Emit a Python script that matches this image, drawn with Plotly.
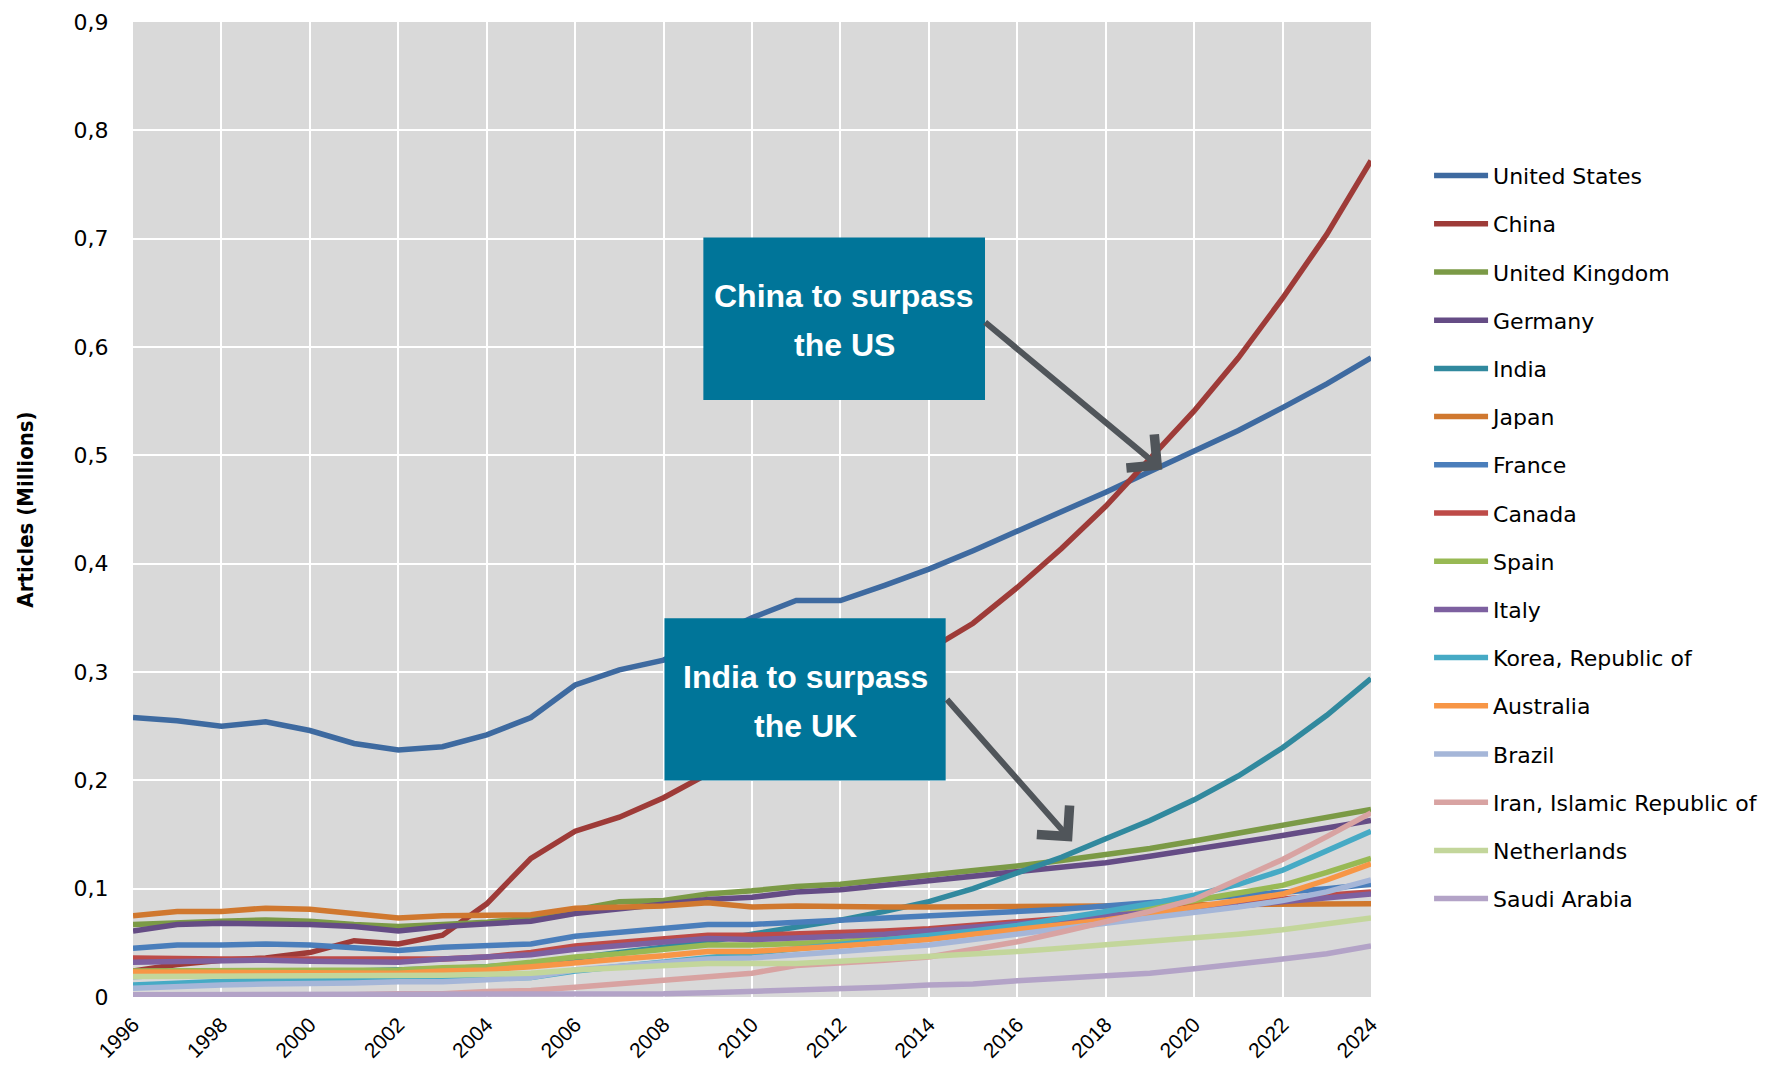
import plotly.graph_objects as go

years = list(range(1996, 2025))

united_states = [0.258, 0.255, 0.250, 0.254, 0.246, 0.234, 0.228, 0.231, 0.242, 0.258, 0.288, 0.302, 0.311, 0.330,
                 0.350, 0.366, 0.366, 0.380, 0.395, 0.412, 0.430, 0.447, 0.466, 0.485, 0.504, 0.523, 0.544, 0.566, 0.590]
china = [0.024, 0.030, 0.034, 0.036, 0.041, 0.052, 0.049, 0.057, 0.086, 0.128, 0.153, 0.166, 0.184, 0.206,
         0.228, 0.250, 0.272, 0.296, 0.320, 0.345, 0.378, 0.414, 0.453, 0.497, 0.541, 0.590, 0.645, 0.704, 0.772]
united_kingdom = [0.067, 0.069, 0.070, 0.071, 0.070, 0.067, 0.065, 0.067, 0.069, 0.073, 0.081, 0.088, 0.089, 0.095,
                  0.098, 0.102, 0.104, 0.108, 0.112, 0.117, 0.121, 0.126, 0.131, 0.137, 0.144, 0.151, 0.158, 0.165, 0.173]
germany = [0.061, 0.067, 0.068, 0.068, 0.067, 0.065, 0.061, 0.065, 0.067, 0.070, 0.077, 0.081, 0.085, 0.090,
           0.092, 0.097, 0.099, 0.103, 0.107, 0.111, 0.115, 0.119, 0.124, 0.130, 0.136, 0.142, 0.149, 0.156, 0.163]
india = [0.019, 0.020, 0.021, 0.022, 0.022, 0.023, 0.024, 0.026, 0.028, 0.031, 0.036, 0.041, 0.046, 0.051,
         0.058, 0.064, 0.071, 0.079, 0.088, 0.100, 0.114, 0.129, 0.146, 0.163, 0.182, 0.204, 0.230, 0.260, 0.294]
japan = [0.075, 0.079, 0.079, 0.082, 0.081, 0.077, 0.073, 0.075, 0.076, 0.076, 0.082, 0.083, 0.084, 0.087,
         0.083, 0.084, 0.083, 0.083, 0.083, 0.083, 0.083, 0.084, 0.084, 0.085, 0.085, 0.085, 0.086, 0.086, 0.086]
france = [0.045, 0.048, 0.048, 0.049, 0.048, 0.046, 0.043, 0.046, 0.047, 0.049, 0.056, 0.060, 0.063, 0.067,
          0.067, 0.069, 0.070, 0.072, 0.075, 0.077, 0.079, 0.081, 0.084, 0.087, 0.090, 0.093, 0.097, 0.100, 0.104]
canada = [0.036, 0.035, 0.035, 0.035, 0.035, 0.035, 0.034, 0.035, 0.037, 0.041, 0.047, 0.050, 0.053, 0.057,
          0.057, 0.058, 0.059, 0.061, 0.063, 0.066, 0.069, 0.072, 0.076, 0.079, 0.083, 0.087, 0.091, 0.094, 0.097]
spain = [0.024, 0.024, 0.025, 0.025, 0.025, 0.025, 0.025, 0.027, 0.028, 0.032, 0.037, 0.040, 0.044, 0.048,
         0.048, 0.049, 0.051, 0.054, 0.058, 0.061, 0.066, 0.071, 0.076, 0.082, 0.089, 0.096, 0.103, 0.115, 0.128]
italy = [0.032, 0.033, 0.033, 0.034, 0.033, 0.032, 0.032, 0.035, 0.037, 0.039, 0.044, 0.047, 0.051, 0.054,
         0.053, 0.054, 0.056, 0.058, 0.061, 0.064, 0.067, 0.071, 0.075, 0.078, 0.080, 0.084, 0.088, 0.092, 0.095]
korea = [0.011, 0.013, 0.014, 0.016, 0.016, 0.015, 0.015, 0.016, 0.017, 0.018, 0.024, 0.028, 0.032, 0.037,
         0.041, 0.045, 0.048, 0.052, 0.056, 0.061, 0.066, 0.072, 0.079, 0.086, 0.094, 0.104, 0.117, 0.135, 0.153]
australia = [0.023, 0.023, 0.023, 0.023, 0.023, 0.023, 0.022, 0.024, 0.025, 0.028, 0.032, 0.035, 0.038, 0.042,
             0.042, 0.044, 0.047, 0.050, 0.053, 0.058, 0.062, 0.067, 0.071, 0.077, 0.083, 0.089, 0.095, 0.108, 0.123]
brazil = [0.008, 0.010, 0.011, 0.012, 0.012, 0.013, 0.014, 0.014, 0.016, 0.018, 0.025, 0.028, 0.031, 0.035,
          0.036, 0.039, 0.042, 0.045, 0.048, 0.053, 0.058, 0.062, 0.068, 0.072, 0.078, 0.083, 0.089, 0.097, 0.108]
iran = [0.001, 0.001, 0.001, 0.002, 0.002, 0.002, 0.003, 0.003, 0.005, 0.006, 0.009, 0.012, 0.015, 0.019,
        0.022, 0.029, 0.031, 0.034, 0.037, 0.044, 0.051, 0.060, 0.069, 0.079, 0.090, 0.108, 0.127, 0.148, 0.170]
netherlands = [0.019, 0.019, 0.019, 0.019, 0.019, 0.019, 0.019, 0.020, 0.021, 0.022, 0.025, 0.027, 0.028, 0.031,
               0.031, 0.031, 0.033, 0.035, 0.037, 0.040, 0.042, 0.045, 0.048, 0.051, 0.054, 0.058, 0.062, 0.067, 0.073]
saudi_arabia = [0.002, 0.002, 0.002, 0.002, 0.002, 0.002, 0.002, 0.002, 0.002, 0.002, 0.002, 0.002, 0.003, 0.004,
                0.005, 0.006, 0.008, 0.009, 0.011, 0.012, 0.015, 0.017, 0.020, 0.022, 0.026, 0.030, 0.035, 0.040, 0.047]

series_names = ["United States", "China", "United Kingdom", "Germany", "India", "Japan", "France", "Canada",
                "Spain", "Italy", "Korea, Republic of", "Australia", "Brazil", "Iran, Islamic Republic of",
                "Netherlands", "Saudi Arabia"]
series_values = [united_states, china, united_kingdom, germany, india, japan, france, canada,
                 spain, italy, korea, australia, brazil, iran, netherlands, saudi_arabia]
series_colors = ["#3E6AA0", "#9E3B38", "#7B9A46", "#654C85", "#31899E", "#D0782F", "#4A7EBB", "#BE4B48",
                 "#98B954", "#7D60A0", "#46AAC5", "#F79646", "#A5B6D8", "#D8A3A2", "#C3D69B", "#B3A3C7"]

year_ticks = list(range(1996, 2025, 2))
y_ticks = [0, 0.1, 0.2, 0.3, 0.4, 0.5, 0.6, 0.7, 0.8, 0.9]
y_tick_labels = ["0", "0,1", "0,2", "0,3", "0,4", "0,5", "0,6", "0,7", "0,8", "0,9"]

fig = go.Figure()
for name, vals, col in zip(series_names, series_values, series_colors):
    fig.add_trace(go.Scatter(x=years, y=vals, name=name, mode="lines",
                             line=dict(color=col, width=5.5), legendgroup=name))

BOX = "#007599"
ARROW = "#50555A"

# annotation boxes (data coordinates)
fig.add_shape(type="rect", xref="x", yref="y", x0=2008.9, x1=2015.27, y0=0.551, y1=0.701,
              fillcolor=BOX, line=dict(width=0), layer="above")
fig.add_shape(type="rect", xref="x", yref="y", x0=2008.02, x1=2014.38, y0=0.1998, y1=0.3496,
              fillcolor=BOX, line=dict(width=0), layer="above")

txt_font = dict(family="Liberation Sans, Arial, sans-serif", size=32, color="white")
fig.add_annotation(x=2012.09, y=0.6472, text="<b>China to surpass</b>", showarrow=False, font=txt_font)
fig.add_annotation(x=2012.09, y=0.6014, text="<b>the US</b>", showarrow=False, font=txt_font)
fig.add_annotation(x=2011.2, y=0.2955, text="<b>India to surpass</b>", showarrow=False, font=txt_font)
fig.add_annotation(x=2011.2, y=0.2497, text="<b>the UK</b>", showarrow=False, font=txt_font)

fig.add_annotation(x=2019.28, y=0.487, ax=2015.24, ay=0.624, xref="x", yref="y", axref="x", ayref="y",
                   text="", showarrow=True, arrowhead=4, arrowsize=1.4, arrowwidth=6, arrowcolor=ARROW)
fig.add_annotation(x=2017.24, y=0.1436, ax=2014.38, ay=0.276, xref="x", yref="y", axref="x", ayref="y",
                   text="", showarrow=True, arrowhead=4, arrowsize=1.4, arrowwidth=6, arrowcolor=ARROW)

fig.update_layout(
    width=1769, height=1068,
    margin=dict(l=125, r=406, t=14, b=79, autoexpand=False),
    paper_bgcolor="white", plot_bgcolor="#D9D9D9",
    separators=",.",
    showlegend=True,
    legend=dict(x=1.0469, y=0.8638, xanchor="left", yanchor="top",
                font=dict(family="DejaVu Sans, Verdana, sans-serif", size=22, color="#000000"),
                tracegroupgap=16.6, itemwidth=54, bgcolor="rgba(0,0,0,0)"),
    xaxis=dict(range=[1996, 2024], tickvals=year_ticks, ticktext=[str(y) for y in year_ticks],
               tickangle=-45, showgrid=True, gridcolor="white", gridwidth=2, zeroline=False,
               showline=False, ticks="outside", ticklen=6, tickcolor="rgba(0,0,0,0)",
               ticklabeloverflow="allow", automargin=False,
               tickfont=dict(family="Liberation Sans, Arial, sans-serif", size=21, color="#000000")),
    yaxis=dict(range=[0, 0.9], tickvals=y_ticks, ticktext=y_tick_labels, showgrid=True, gridcolor="white",
               gridwidth=2, zeroline=False, showline=False, ticks="outside", ticklen=19,
               tickcolor="rgba(0,0,0,0)", ticklabeloverflow="allow", automargin=False,
               tickfont=dict(family="DejaVu Sans, Verdana, sans-serif", size=22, color="#000000"),
               title=dict(text="<b>Articles (Millions)</b>", standoff=33,
                          font=dict(family="Liberation Sans Narrow, DejaVu Sans Condensed, Arial Narrow, sans-serif",
                                    size=22, color="#000000"))),
)

fig.write_html("out.html")
